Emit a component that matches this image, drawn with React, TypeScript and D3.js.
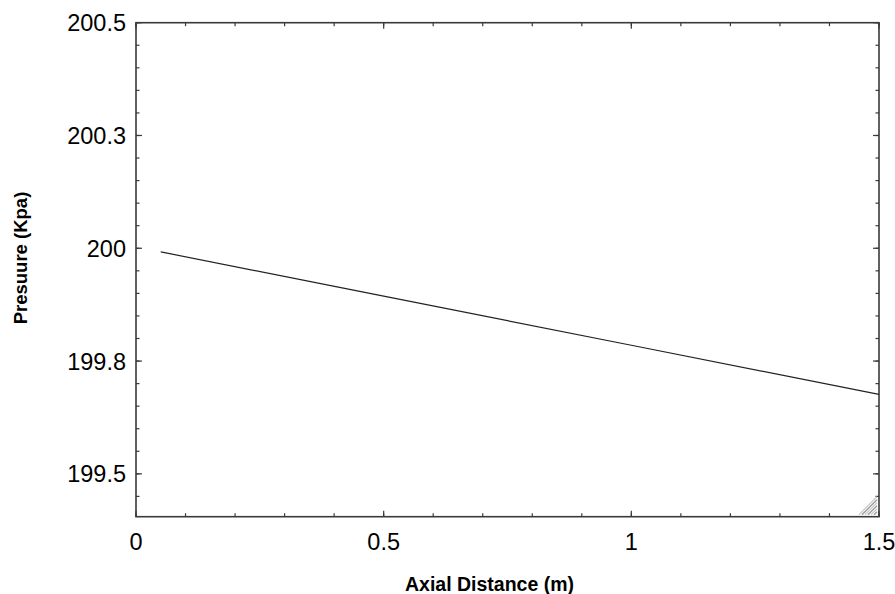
import React from "react";
import * as d3 from "d3";

const axialDistance = [0.05, 0.5, 1.0, 1.5];
const pressure = [199.992, 199.894, 199.785, 199.676];

const xMajorTicks = [0, 0.5, 1, 1.5];
const xTickLabels = ["0", "0.5", "1", "1.5"];
const yMajorTicks = [200.5, 200.25, 200, 199.75, 199.5];
const yTickLabels = ["200.5", "200.3", "200", "199.8", "199.5"];

const W = 895;
const H = 594;
const left = 136;
const right = 879;
const top = 22.7;
const bottom = 516.7;

export default function App() {
  const x = d3.scaleLinear().domain([0, 1.5]).range([left, right]);
  const y = d3.scaleLinear().domain([199.405, 200.5]).range([bottom, top]);

  const xMinor = d3.range(0, 1.5001, 0.1).map((v) => +v.toFixed(2));
  const yMinor = d3.range(199.45, 200.5001, 0.05).map((v) => +v.toFixed(2));

  const line = d3
    .line<number>()
    .x((_, i) => x(axialDistance[i]))
    .y((d) => y(d));

  const axisColor = "#3a3a3a";
  const font = "'Liberation Sans', Arial, sans-serif";
  const gripLines = [3, 6, 9, 12, 15, 18];

  return (
    <svg
      width={W}
      height={H}
      style={{ position: "absolute", left: 0, top: 0, background: "#fff" }}
    >
      <rect x={0} y={0} width={W} height={H} fill="#fff" />
      {/* minor ticks x */}
      {xMinor.map((v, i) => (
        <g key={"xm" + i}>
          <line x1={x(v)} x2={x(v)} y1={bottom} y2={bottom - 3.5} stroke={axisColor} strokeWidth={1.2} />
          <line x1={x(v)} x2={x(v)} y1={top} y2={top + 3.5} stroke={axisColor} strokeWidth={1.2} />
        </g>
      ))}
      {xMajorTicks.map((v, i) => (
        <g key={"xM" + i}>
          <line x1={x(v)} x2={x(v)} y1={bottom} y2={bottom - 6} stroke={axisColor} strokeWidth={1.2} />
          <line x1={x(v)} x2={x(v)} y1={top} y2={top + 6} stroke={axisColor} strokeWidth={1.2} />
          <text
            x={x(v)}
            y={550}
            textAnchor="middle"
            fontFamily={font}
            fontSize={23.5}
            fill="#000"
          >
            {xTickLabels[i]}
          </text>
        </g>
      ))}
      {yMinor.map((v, i) => (
        <g key={"ym" + i}>
          <line x1={left} x2={left + 3.5} y1={y(v)} y2={y(v)} stroke={axisColor} strokeWidth={1.2} />
          <line x1={right} x2={right - 3.5} y1={y(v)} y2={y(v)} stroke={axisColor} strokeWidth={1.2} />
        </g>
      ))}
      {yMajorTicks.map((v, i) => (
        <g key={"yM" + i}>
          <line x1={left} x2={left + 6} y1={y(v)} y2={y(v)} stroke={axisColor} strokeWidth={1.2} />
          <line x1={right} x2={right - 6} y1={y(v)} y2={y(v)} stroke={axisColor} strokeWidth={1.2} />
          <text
            x={126}
            y={y(v) + 8.5}
            textAnchor="end"
            fontFamily={font}
            fontSize={23.5}
            fill="#000"
          >
            {yTickLabels[i]}
          </text>
        </g>
      ))}
      {/* frame */}
      <rect
        x={left}
        y={top}
        width={right - left}
        height={bottom - top}
        fill="none"
        stroke={axisColor}
        strokeWidth={1.6}
      />
      {/* data line */}
      <path d={line(pressure) || ""} fill="none" stroke="#222" strokeWidth={1.2} />
      {/* resize grip */}
      {gripLines.map((d, i) => (
        <line
          key={"g" + i}
          x1={right - 2 - d}
          y1={bottom - 2}
          x2={right - 2}
          y2={bottom - 2 - d}
          stroke={i % 2 === 0 ? "#999" : "#ccc"}
          strokeWidth={1.3}
        />
      ))}
      {/* axis titles */}
      <text
        x={489.5}
        y={590.5}
        textAnchor="middle"
        fontFamily={font}
        fontWeight="bold"
        fontSize={19.5}
        fill="#000"
      >
        Axial Distance (m)
      </text>
      <text
        transform={`translate(26.5, 258) rotate(-90)`}
        textAnchor="middle"
        fontFamily={font}
        fontWeight="bold"
        fontSize={18.5}
        fill="#000"
      >
        Presuure (Kpa)
      </text>
    </svg>
  );
}
